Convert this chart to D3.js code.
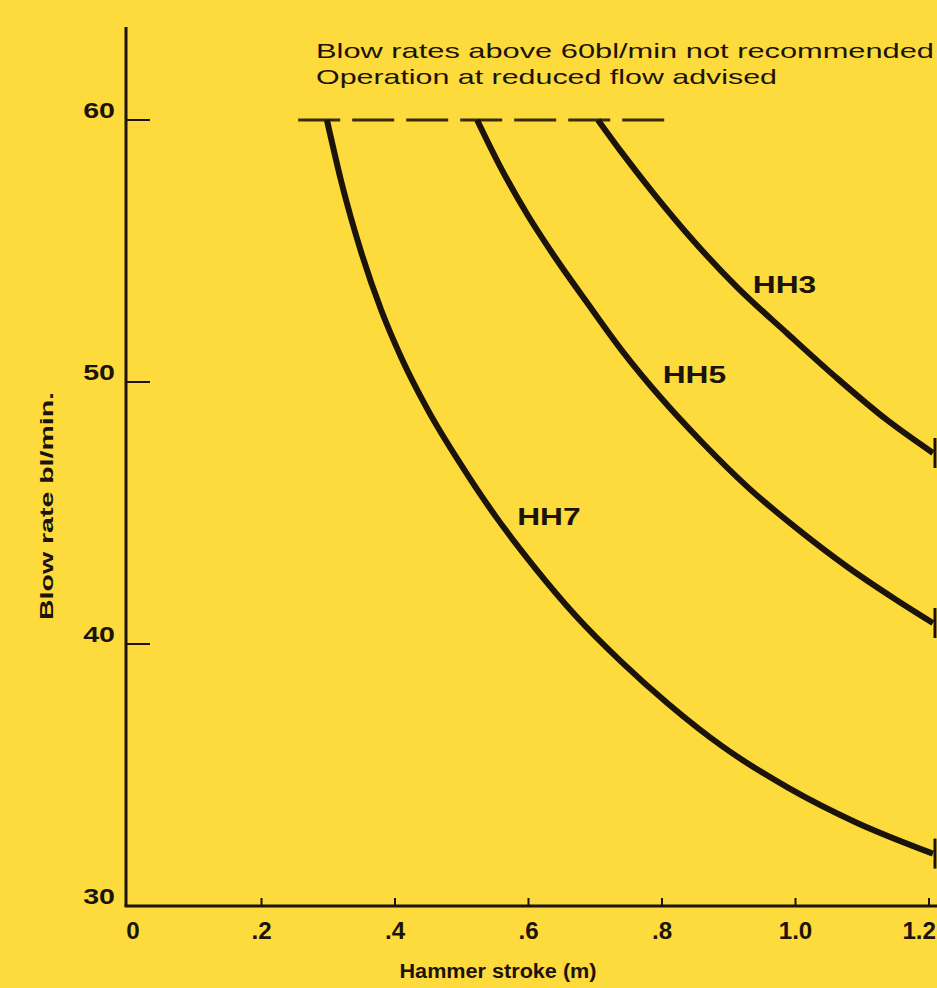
<!DOCTYPE html>
<html>
<head>
<meta charset="utf-8">
<script src="https://cdn.jsdelivr.net/npm/d3@7"></script>
<style>
	html, body { margin: 0; padding: 0; background: #fddb3c; overflow: hidden; }
	text { font-family: "Liberation Sans", Arial, sans-serif; fill: #1c130a; }
</style>
</head>
<body>
<div id="chart"></div>
<script>
"use strict";

// hammer stroke (m) vs blow rate (bl/min)
const hh3Stroke = [0.704, 0.737, 0.787, 0.846, 0.912, 0.987, 1.062, 1.137, 1.206];
const hh3Rate = [60, 58.85, 57.21, 55.42, 53.63, 51.87, 50.15, 48.55, 47.29];

const hh5Stroke = [0.523, 0.557, 0.598, 0.64, 0.69, 0.74, 0.8, 0.86, 0.93, 1.0, 1.08, 1.15, 1.206];
const hh5Rate = [60, 58.25, 56.4, 54.75, 52.95, 51.2, 49.35, 47.7, 45.95, 44.45, 42.9, 41.7, 40.8];

const hh7Stroke = [0.298, 0.32, 0.35, 0.38, 0.41, 0.45, 0.5, 0.55, 0.61, 0.67, 0.74, 0.81, 0.89, 0.99, 1.09, 1.206];
const hh7Rate = [60, 57.6, 54.9, 52.7, 50.9, 48.9, 46.8, 44.9, 42.9, 41.1, 39.3, 37.7, 36.1, 34.5, 33.2, 32.0];

const seriesNames = ["HH3", "HH5", "HH7"];
// where each curve label sits (stroke, rate at the baseline)
const labelStroke = [0.936, 0.801, 0.583];
const labelRate = [53.4, 49.96, 44.54];

const xTicks = [0, 0.2, 0.4, 0.6, 0.8, 1.0, 1.2];
const xTickLabels = ["0", ".2", ".4", ".6", ".8", "1.0", "1.2"];
const yTicks = [30, 40, 50, 60];
const limitRate = 60;
const limitStroke = [0.255, 0.808];
const noteLines = ["Blow rates above 60bl/min not recommended", "Operation at reduced flow advised"];

const W = 937, H = 988;
const ink = "#1c130a";

const svg = d3.select("#chart").append("svg")
	.attr("id", "svg")
	.attr("width", W)
	.attr("height", H);

svg.append("rect").attr("width", W).attr("height", H).attr("fill", "#fddb3c");

const x = d3.scaleLinear().domain([0, 1.2]).range([128, 929]);
const y = d3.scaleLinear().domain([30, 60]).range([906, 120]);

// the old print uses a wide face, so stretch text horizontally
function stretch(sel, k) {
	sel.each(function () {
		const w = this.getComputedTextLength();
		d3.select(this).attr("textLength", w * k).attr("lengthAdjust", "spacingAndGlyphs");
	});
}

// axes
svg.append("line")
	.attr("x1", x(0) - 2).attr("x2", x(0) - 2)
	.attr("y1", 27).attr("y2", y(30))
	.style("stroke", ink).style("stroke-width", "3px");
svg.append("line")
	.attr("x1", x(0) - 3.5).attr("x2", W)
	.attr("y1", y(30)).attr("y2", y(30))
	.style("stroke", ink).style("stroke-width", "3px");

// x ticks point up into the plot
svg.selectAll(".xtick")
	.data(xTicks.slice(1))
	.enter()
	.append("line")
	.attr("class", "xtick")
	.attr("x1", (d) => x(d)).attr("x2", (d) => x(d))
	.attr("y1", y(30)).attr("y2", y(30) - 8)
	.style("stroke", ink).style("stroke-width", "2px");

// last label is pulled in so it stays on the page
svg.selectAll(".xlab")
	.data(xTicks)
	.enter()
	.append("text")
	.attr("class", "xlab")
	.attr("x", (d, i) => (i === xTicks.length - 1 ? W - 1 : x(d) + (d === 0 ? 5 : 0)))
	.attr("y", y(30) + 33)
	.attr("text-anchor", (d, i) => (i === xTicks.length - 1 ? "end" : "middle"))
	.attr("font-weight", "bold")
	.attr("font-size", "23px")
	.text((d, i) => xTickLabels[i])
	.call(stretch, 1.05);

// y ticks point right
svg.selectAll(".ytick")
	.data(yTicks.slice(1))
	.enter()
	.append("line")
	.attr("class", "ytick")
	.attr("x1", x(0) - 2).attr("x2", x(0) + 22)
	.attr("y1", (d) => y(d)).attr("y2", (d) => y(d))
	.style("stroke", ink).style("stroke-width", "2px");

svg.selectAll(".ylab")
	.data(yTicks)
	.enter()
	.append("text")
	.attr("class", "ylab")
	.attr("x", 115)
	.attr("y", (d) => y(d) - 2)
	.attr("text-anchor", "end")
	.attr("font-weight", "bold")
	.attr("font-size", "22px")
	.text((d) => d)
	.call(stretch, 1.3);

// axis titles
svg.append("text")
	.attr("x", 498)
	.attr("y", 978)
	.attr("text-anchor", "middle")
	.attr("font-weight", "bold")
	.attr("font-size", "20px")
	.text("Hammer stroke (m)")
	.attr("textLength", 197)
	.attr("lengthAdjust", "spacingAndGlyphs");

svg.append("text")
	.attr("transform", "translate(53,506) rotate(-90)")
	.attr("text-anchor", "middle")
	.attr("font-weight", "bold")
	.attr("font-size", "19px")
	.text("Blow rate bl/min.")
	.attr("textLength", 228)
	.attr("lengthAdjust", "spacingAndGlyphs");

// recommended limit
svg.append("line")
	.attr("x1", x(limitStroke[0])).attr("x2", x(limitStroke[1]))
	.attr("y1", y(limitRate)).attr("y2", y(limitRate))
	.style("stroke", "#3a2c0c")
	.style("stroke-width", "3px")
	.style("stroke-dasharray", "42 12");

const noteWidths = [618, 461];
svg.selectAll(".note")
	.data(noteLines)
	.enter()
	.append("text")
	.attr("class", "note")
	.attr("x", 316)
	.attr("y", (d, i) => 58 + i * 26)
	.attr("font-size", "21px")
	.text((d) => d)
	.attr("textLength", (d, i) => noteWidths[i])
	.attr("lengthAdjust", "spacingAndGlyphs");

// curves
const series = [
	d3.zip(hh3Stroke, hh3Rate),
	d3.zip(hh5Stroke, hh5Rate),
	d3.zip(hh7Stroke, hh7Rate)
];

const line = d3.line()
	.x((d) => x(d[0]))
	.y((d) => y(d[1]))
	.curve(d3.curveMonotoneX);

const curves = svg.selectAll(".curve")
	.data(series)
	.enter()
	.append("g")
	.attr("class", "curve");

curves.append("path")
	.attr("d", line)
	.style("fill", "none")
	.style("stroke", ink)
	.style("stroke-width", "6px")
	.style("stroke-linecap", "butt");

// small end bars where the curves stop at the right
curves.append("line")
	.attr("x1", (d) => x(d[d.length - 1][0]) + 2)
	.attr("x2", (d) => x(d[d.length - 1][0]) + 2)
	.attr("y1", (d) => y(d[d.length - 1][1]) - 15)
	.attr("y2", (d) => y(d[d.length - 1][1]) + 15)
	.style("stroke", ink)
	.style("stroke-width", "3px");

svg.selectAll(".seriesLabel")
	.data(seriesNames)
	.enter()
	.append("text")
	.attr("class", "seriesLabel")
	.attr("x", (d, i) => x(labelStroke[i]))
	.attr("y", (d, i) => y(labelRate[i]))
	.attr("font-weight", "bold")
	.attr("font-size", "24px")
	.text((d) => d)
	.call(stretch, 1.32);
</script>
</body>
</html>
